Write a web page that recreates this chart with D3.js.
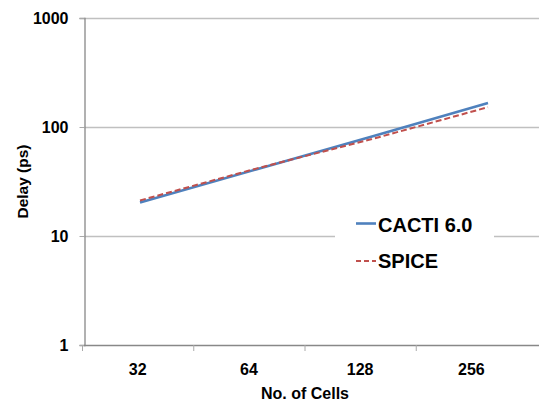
<!DOCTYPE html>
<html>
<head>
<meta charset="utf-8">
<script src="https://cdn.jsdelivr.net/npm/d3@7"></script>
<style>
  html, body { margin: 0; padding: 0; background: #fff; }
  svg { display: block; font-family: "Liberation Sans", Arial, sans-serif; font-weight: bold; }
</style>
</head>
<body>
<svg id="chart" width="539" height="404"></svg>
<script>
const categories = ["32", "64", "128", "256"];
const cactiValues = [20.3, 40.8, 82, 166];
const spiceValues = [21.2, 41.5, 77.5, 152];
const yTickValues = [1, 10, 100, 1000];
const seriesNames = ["CACTI 6.0", "SPICE"];

const svg = d3.select("#chart");
const W = 539, H = 404;
const plot = { left: 84, right: 527, top: 18, bottom: 345 };

const y = d3.scaleLog().domain([1, 1000]).range([plot.bottom, plot.top]);
const xBand = d3.scaleBand().domain(categories).range([82, plot.right]);
const xPoint = d3.scalePoint().domain(categories).range([140, 488]);

// gridlines
svg.append("g")
  .selectAll("line").data(yTickValues.slice(1)).join("line")
  .attr("x1", plot.left).attr("x2", W)
  .attr("y1", d => Math.round(y(d)) + 0.5).attr("y2", d => Math.round(y(d)) + 0.5)
  .attr("stroke", "#c0c0c0").attr("stroke-width", 1.3);

// y axis
const yAxis = svg.append("g").attr("transform", `translate(${plot.left + 0.5},0)`)
  .call(d3.axisLeft(y).tickValues(yTickValues).tickFormat(d3.format("d")).tickSize(5).tickPadding(11));
yAxis.select(".domain").attr("stroke", "#888").attr("stroke-width", 1.3);
yAxis.selectAll(".tick line").attr("stroke", "#aaa");
yAxis.selectAll(".tick text").attr("font-size", 16).attr("font-weight", "bold")
  .attr("font-family", "Liberation Sans, Arial, sans-serif").attr("fill", "#000").attr("dy", "0.36em");

// x axis baseline
svg.append("line").attr("x1", plot.left).attr("x2", W)
  .attr("y1", plot.bottom + 0.5).attr("y2", plot.bottom + 0.5)
  .attr("stroke", "#888").attr("stroke-width", 1.3);
const xAxis = svg.append("g").attr("transform", `translate(0,${plot.bottom + 0.5})`)
  .call(d3.axisBottom(xBand).tickSize(0).tickPadding(18));
xAxis.select(".domain").remove();
xAxis.selectAll(".tick text").attr("font-size", 16).attr("font-weight", "bold")
  .attr("font-family", "Liberation Sans, Arial, sans-serif").attr("fill", "#000");
// category boundary ticks
svg.append("g").selectAll("line").data(categories).join("line")
  .attr("x1", d => xBand(d) + 0.5).attr("x2", d => xBand(d) + 0.5)
  .attr("y1", plot.bottom).attr("y2", plot.bottom + 6)
  .attr("stroke", "#aaa").attr("stroke-width", 1);

// axis titles
svg.append("text").attr("x", 305).attr("y", 399)
  .attr("text-anchor", "middle").attr("font-size", 16).text("No. of Cells");
svg.append("text").attr("transform", `translate(28,${(plot.top + plot.bottom) / 2}) rotate(-90)`)
  .attr("text-anchor", "middle").attr("font-size", 15.5).text("Delay (ps)");

// lines
const line = vals => d3.line()
  .x((d, i) => xPoint(categories[i]))
  .y(d => y(d))(vals);

svg.append("path").attr("d", line(cactiValues))
  .attr("fill", "none").attr("stroke", "#4F81BD").attr("stroke-width", 2.6);
svg.append("path").attr("d", line(spiceValues))
  .attr("fill", "none").attr("stroke", "#C0504D").attr("stroke-width", 2)
  .attr("stroke-dasharray", "6,3");

// legend
const lg = svg.append("g");
lg.append("rect").attr("x", 335).attr("y", 205).attr("width", 159).attr("height", 75).attr("fill", "#fff");
const legendItems = [
  { name: seriesNames[0], color: "#4F81BD", dash: null, w: 2.6, ly: 223.5, ty: 231.5 },
  { name: seriesNames[1], color: "#C0504D", dash: "5,3", w: 2, ly: 261, ty: 268 }
];
legendItems.forEach(it => {
  lg.append("line").attr("x1", 356).attr("x2", 376).attr("y1", it.ly).attr("y2", it.ly)
    .attr("stroke", it.color).attr("stroke-width", it.w).attr("stroke-dasharray", it.dash);
  lg.append("text").attr("x", 378).attr("y", it.ty).attr("font-size", 20).text(it.name);
});
</script>
</body>
</html>
